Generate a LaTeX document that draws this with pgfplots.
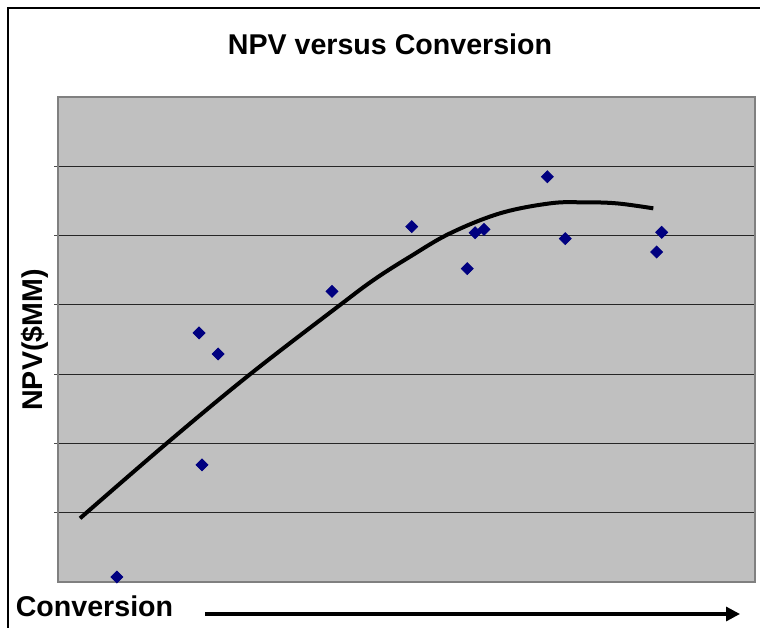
\documentclass[border=0pt]{standalone}
\usepackage{fontspec}
\setmainfont{Liberation Sans}
\usepackage{pgfplots}
\pgfplotsset{compat=1.18}
\usetikzlibrary{arrows.meta}
\definecolor{plotgray}{RGB}{192,192,192}
\definecolor{framegray}{RGB}{128,128,128}
\definecolor{navy}{RGB}{0,0,128}
\begin{document}
\begin{tikzpicture}[x=1pt,y=1pt]
\begin{axis}[
  at={(0,0)}, anchor=south west,
  scale only axis,
  width=348.5pt, height=242.5pt,
  xmin=0, xmax=10, ymin=0, ymax=7,
  axis background/.style={fill=plotgray},
  axis line style={draw=framegray, line width=1pt},
  xtick=\empty,
  ytick={1,2,3,4,5,6},
  yticklabels={},
  ytick pos=left,
  ymajorgrids,
  major grid style={draw=black!85, line width=0.5pt},
  tick align=outside,
  major tick length=2pt,
  tick style={draw=black!70, line width=0.4pt},
  clip=true,
]
\addplot[only marks, mark=square*, mark size=2.1pt, color=navy, mark options={fill=navy, draw=navy, rotate=45}]
coordinates {
(0.846,0.072) (2.023,3.594) (2.066,1.689) (2.296,3.291) (3.931,4.195)
(5.075,5.128) (5.872,4.522) (5.983,5.041) (6.112,5.090) (7.020,5.849)
(7.278,4.955) (8.590,4.763) (8.661,5.047)
};
\addplot[black, line width=2pt, smooth, tension=0.6, mark=none]
coordinates {
(0.316,0.919) (1.560,2.002) (2.755,2.998) (4.046,3.998) (4.548,4.373)
(5.050,4.695) (5.624,5.032) (6.341,5.321) (7.059,5.465) (7.532,5.480)
(8.016,5.465) (8.541,5.393)
};
\end{axis}
% overall frame and bounding box (1px = 0.5pt; axis origin at px (58,582))
\useasboundingbox (-29,-22.5) rectangle (351,291);
\draw[black, line width=1pt] (-25,-23) -- (-25,287) -- (352,287);
\node[font=\bfseries\fontsize{14.3}{16}\selectfont] at (166,269) {NPV versus Conversion};
\node[font=\bfseries\fontsize{14.3}{16}\selectfont, rotate=90] at (-11.5,121) {NPV(\$MM)};
\node[font=\bfseries\fontsize{14.3}{16}\selectfont] at (18.25,-12) {Conversion};
\draw[black, line width=1.6pt, -{Triangle[length=7pt,width=7pt]}] (73.5,-16) -- (341,-16);
\end{tikzpicture}
\end{document}
